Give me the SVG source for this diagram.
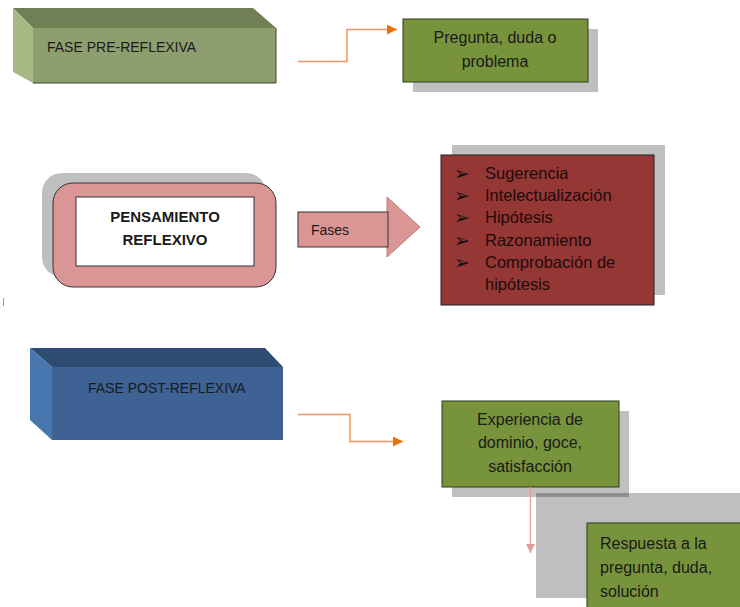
<svg xmlns="http://www.w3.org/2000/svg" width="740" height="607" viewBox="0 0 740 607">
<defs>
<style>
text{font-family:"Liberation Sans",Arial,sans-serif;fill:#1a1a1a}
.t14{font-size:14px}
.t16{font-size:16px}
.c{text-anchor:middle}
.bold{font-weight:bold;font-size:15px}
.shadow{fill:#000;fill-opacity:0.25}
.green{fill:#77933c;stroke:#2f3a1c;stroke-width:1}
.orange{fill:none;stroke:#f0955a;stroke-width:1.5}
.bul{font-family:"DejaVu Sans",sans-serif;font-size:19px;fill:#111}
</style>
<marker id="oa" viewBox="0 0 10 10" refX="10" refY="5" markerWidth="10" markerHeight="10" markerUnits="userSpaceOnUse" orient="auto">
<path d="M0,0 L10,5 L0,10 z" fill="#e8700f"/>
</marker>
<marker id="pa" viewBox="0 0 10 10" refX="10" refY="5" markerWidth="9" markerHeight="9" markerUnits="userSpaceOnUse" orient="auto">
<path d="M0,0 L10,5 L0,10 z" fill="#e59a9a"/>
</marker>
</defs>

<line x1="3.5" y1="298" x2="3.5" y2="306" stroke="#999" stroke-width="1"/>

<g id="fase-pre">
<polygon points="13,8 253,8 276,28 33,28" fill="#717f55"/>
<polygon points="13,8 33,28 33,83 13,72" fill="#a6b985"/>
<rect x="33" y="28" width="243" height="55" fill="#8e9e6f"/>
<line x1="276" y1="28" x2="276" y2="83" stroke="#3d4430" stroke-width="1"/>
<line x1="33" y1="83" x2="276" y2="83" stroke="#3d4430" stroke-width="1"/>
<text class="t14" x="47" y="52">FASE PRE-REFLEXIVA</text>
</g>

<g id="pregunta">
<rect class="shadow" x="413" y="29" width="185" height="63"/>
<rect class="green" x="403" y="19" width="185" height="63"/>
<text class="t16 c" x="495" y="43">Pregunta, duda o</text>
<text class="t16 c" x="495" y="67">problema</text>
</g>

<g id="pensamiento">
<rect class="shadow" x="42" y="173" width="224" height="104" rx="20" ry="20"/>
<rect x="53" y="183" width="223" height="104" rx="20" ry="20" fill="#d99694" stroke="#333" stroke-width="1"/>
<rect x="76" y="197" width="178" height="69" fill="#fff" stroke="#333" stroke-width="1"/>
<text class="bold c" x="165" y="222">PENSAMIENTO</text>
<text class="bold c" x="165" y="245">REFLEXIVO</text>
</g>

<g id="fases">
<polygon points="387,197 420,227 387,257" fill="#d99694" stroke="#c07a79" stroke-width="1"/>
<rect x="298" y="212" width="90" height="35" fill="#d99694" stroke="#333" stroke-width="1"/>
<text class="t14" x="311" y="235">Fases</text>
</g>

<g id="lista">
<rect class="shadow" x="452" y="145" width="213" height="150"/>
<rect x="441" y="155" width="213" height="150" fill="#953735" stroke="#222" stroke-width="1"/>
<text class="bul" x="454" y="180">➢</text>
<text class="bul" x="454" y="202">➢</text>
<text class="bul" x="454" y="224">➢</text>
<text class="bul" x="454" y="247">➢</text>
<text class="bul" x="454" y="269">➢</text>
<g style="font-size:16.5px">
<text x="485" y="179" style="fill:#1f0a0a">Sugerencia</text>
<text x="485" y="201" style="fill:#1f0a0a">Intelectualización</text>
<text x="485" y="223" style="fill:#1f0a0a">Hipótesis</text>
<text x="485" y="246" style="fill:#1f0a0a">Razonamiento</text>
<text x="485" y="268" style="fill:#1f0a0a">Comprobación de</text>
<text x="485" y="290" style="fill:#1f0a0a">hipótesis</text>
</g>
</g>

<g id="fase-post">
<polygon points="30,348 265,348 283,367 52,367" fill="#2e4b72"/>
<polygon points="30,348 52,367 52,440 30,420" fill="#4876ae"/>
<rect x="52" y="367" width="231" height="73" fill="#3d6293"/>
<text class="t14" x="88" y="393">FASE POST-REFLEXIVA</text>
</g>

<g id="experiencia">
<rect class="shadow" x="452" y="411" width="177" height="86"/>
<rect class="green" x="442" y="401" width="177" height="86"/>
<text class="t16 c" x="530" y="425">Experiencia de</text>
<text class="t16 c" x="530" y="448">dominio, goce,</text>
<text class="t16 c" x="530" y="472">satisfacción</text>
</g>

<g id="respuesta">
<rect class="shadow" x="536" y="493" width="210" height="105"/>
<rect class="green" x="587" y="523" width="160" height="90"/>
<text class="t16" x="600" y="549">Respuesta a la</text>
<text class="t16" x="600" y="573">pregunta, duda,</text>
<text class="t16" x="600" y="597">solución</text>
</g>

<g id="connectors">
<polyline class="orange" points="298,61.5 347,61.5 347,29.5 397,29.5" marker-end="url(#oa)"/>
<polyline class="orange" points="298,414.5 350,414.5 350,441.5 403,441.5" marker-end="url(#oa)"/>
<line x1="530.5" y1="487" x2="530.5" y2="553" stroke="#e59a9a" stroke-width="1.2" marker-end="url(#pa)"/>
</g>
</svg>
